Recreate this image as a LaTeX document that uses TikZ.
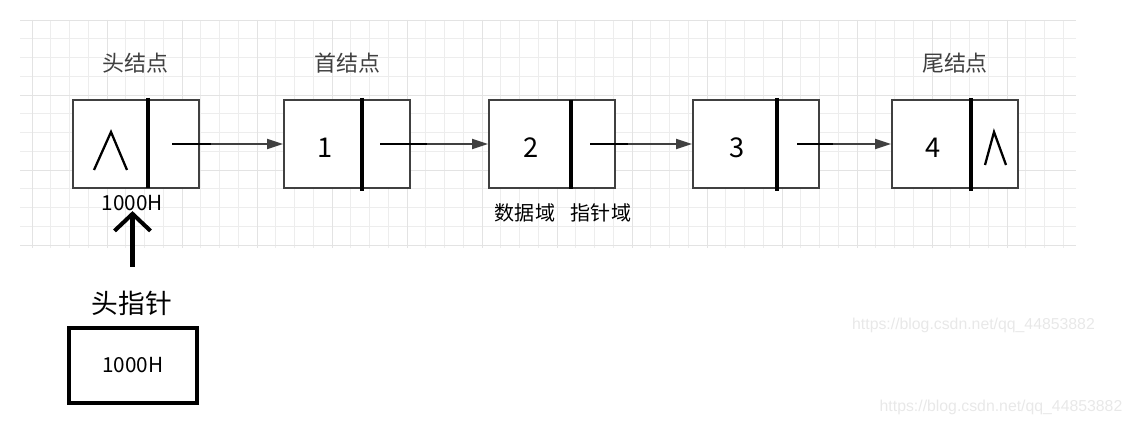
\documentclass[tikz,border=0pt]{standalone}
\usepackage{fontspec}
\setmainfont{Noto Sans CJK SC}
\newfontfamily\wmfont{Liberation Sans}
\usetikzlibrary{arrows.meta}
\tikzset{
  cell/.style={draw=black!75,line width=1.1pt,fill=white,minimum width=2.52cm,minimum height=1.76cm,inner sep=0pt},
  divider/.style={line width=2.3pt},
  nil/.style={line width=1.3pt},
  ptr/.style={line width=1.7pt},
  link/.style={-{Triangle[length=3.2mm,width=2mm]},draw=black!75,line width=1.1pt},
  uparr/.style={-{Straight Barb[length=3.4mm,width=7.2mm]},line width=2.3pt},
  minorgrid/.style={draw=black!7,line width=0.5pt},
  majorgrid/.style={draw=black!11,line width=0.5pt},
  val/.style={inner sep=0pt,font=\fontsize{15.5}{16}\selectfont},
  title/.style={inner sep=0pt,text=black!75,font=\fontsize{12.5}{14}\selectfont},
  field/.style={inner sep=0pt,font=\fontsize{11.4}{13}\selectfont},
  addr/.style={inner sep=0pt,font=\fontsize{11.8}{13}\selectfont},
  wm/.style={inner sep=0pt,text=black!9,font=\wmfont\fontsize{9}{10}\selectfont}
}

\begin{document}
\begin{tikzpicture}[x=0.02cm,y=-0.02cm]
\useasboundingbox (0,0) rectangle (1132,425);
% background grid
\begin{scope}
\clip (20,20) rectangle (1076,248);
\foreach \i in {0,...,55} \draw[minorgrid] ({32+18.75*\i},20) -- ({32+18.75*\i},248);
\foreach \j in {0,...,12} \draw[minorgrid] (20,{20+18.75*\j}) -- (1076,{20+18.75*\j});
\foreach \i in {0,...,13} \draw[majorgrid] ({32+75*\i},20) -- ({32+75*\i},248);
\foreach \j in {0,...,3} \draw[majorgrid] (20,{20+75*\j}) -- (1076,{20+75*\j});
\end{scope}
% list nodes
\node[cell] (h) at (136,144) {};
\node[cell] (n1) at (347,144) {};
\node[cell] (n2) at (552,144) {};
\node[cell] (n3) at (756,144) {};
\node[cell] (n4) at (955,144) {};
\foreach \x/\a/\b in {148/98/188, 362/98/191, 571/100/189, 777/98/191, 971/98/191}
  \draw[divider] (\x,\a) -- (\x,\b);
\node[val] (v1) at (325,148) {1};
\node[val] (v2) at (531,148) {2};
\node[val] (v3) at (737,148) {3};
\node[val] (v4) at (933,148) {4};
\draw[nil] (94,170) -- (111,132) -- (127,170);
\draw[nil] (985,165) -- (994,132) -- (1006,165);
\node[title] (th) at (135.5,63) {头结点};
\node[title] (tf) at (347.5,63) {首结点};
\node[title] (tt) at (955,63) {尾结点};
\node[field] (fd) at (525,213) {数据域};
\node[field] (fp) at (601,213) {指针域};
% pointer fields
\coordinate (hp) at (172,144);
\coordinate (p1) at (380,144);
\coordinate (p2) at (590,144);
\coordinate (p3) at (797,144);
\draw[link] (hp) -- (n1.west);
\draw[link] (p1) -- (n2.west);
\draw[link] (p2) -- (n3.west);
\draw[link] (p3) -- (n4.west);
\draw[ptr] (hp) -- ++(39,0);
\draw[ptr] (p1) -- ++(47,0);
\draw[ptr] (p2) -- ++(38,0);
\draw[ptr] (p3) -- ++(36,0);
% head pointer
\node[addr] (a) at (132.5,203) {1000H};
\node[font=\fontsize{15.2}{17}\selectfont,inner sep=0pt] (hl) at (132,303) {头指针};
\node[draw,line width=1.8pt,minimum width=2.56cm,minimum height=1.5cm,inner sep=0pt,addr] (hb) at (133,365.5) {1000H};
\coordinate (up) at (132.5,267);
\draw[uparr] (up) -- (a.south);
% watermark
\node[wm] (w1) at (973.5,325) {https://blog.csdn.net/qq\_44853882};
\node[wm] (w2) at (1001,407) {https://blog.csdn.net/qq\_44853882};
\end{tikzpicture}
\end{document}
